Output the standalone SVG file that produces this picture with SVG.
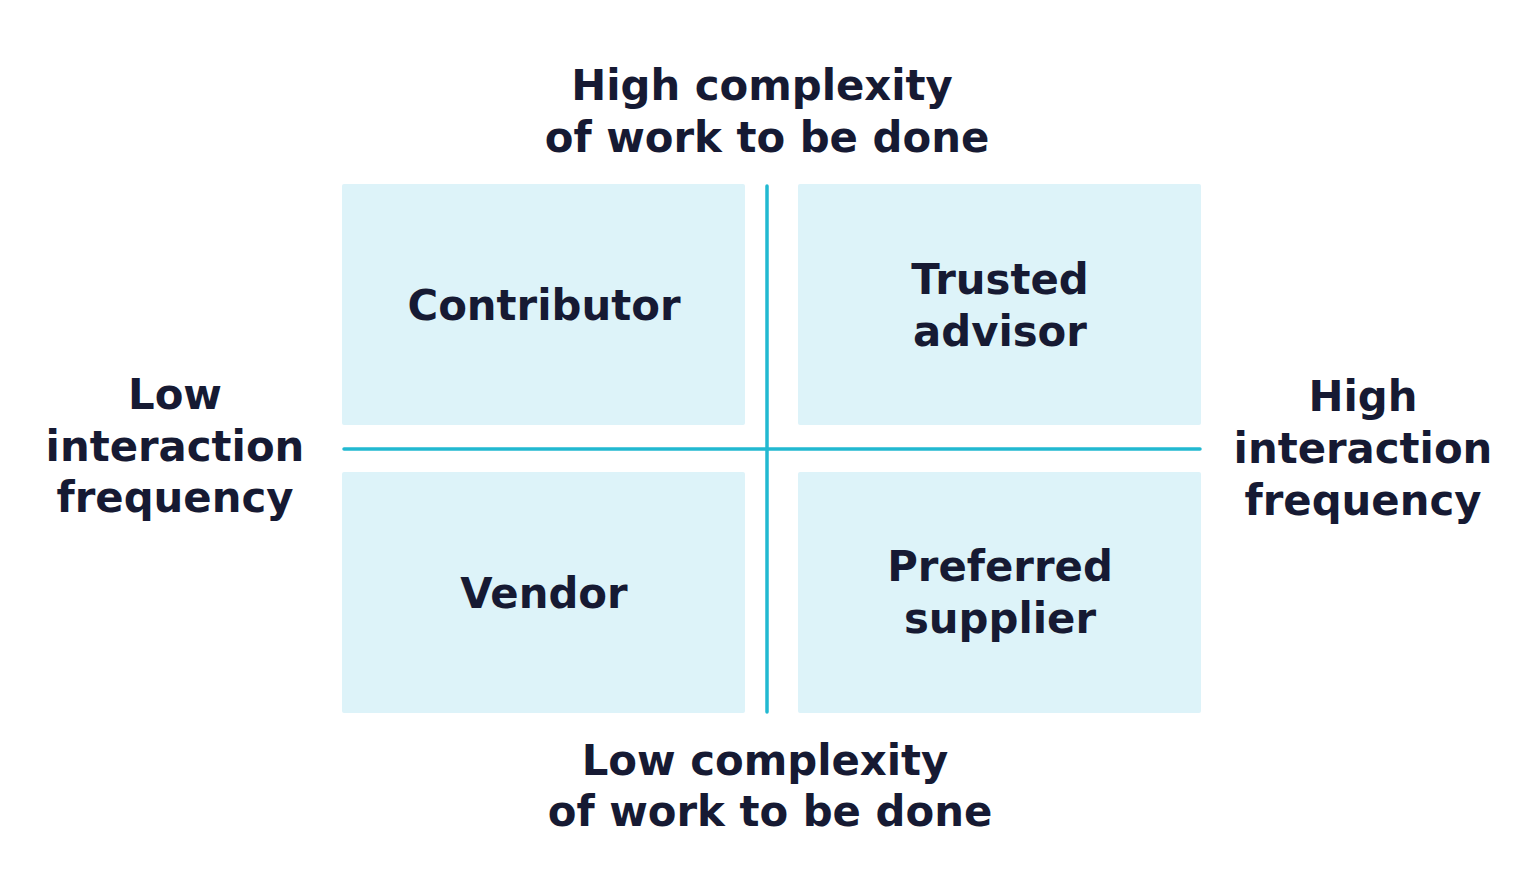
<svg xmlns="http://www.w3.org/2000/svg" width="1536" height="876" viewBox="0 0 1536 876">
<style>
.q{fill:#ddf3f9}
.t{font-family:"DejaVu Sans","Liberation Sans",sans-serif;font-weight:700;font-size:41.8px;fill:#161a33;text-anchor:middle}
.ax{stroke:#22b9d1;stroke-width:3.5;stroke-linecap:round;fill:none}
</style>
<rect width="1536" height="876" fill="#ffffff"/>
<g id="contributor"><rect class="q" x="342" y="184" width="403" height="241" rx="2"/><text class="t" x="544" y="320">Contributor</text></g>
<g id="trusted-advisor"><rect class="q" x="798" y="184" width="403" height="241" rx="2"/><text class="t" x="1000" y="294">Trusted</text><text class="t" x="1000" y="346">advisor</text></g>
<g id="vendor"><rect class="q" x="342" y="472" width="403" height="241" rx="2"/><text class="t" x="544" y="608">Vendor</text></g>
<g id="preferred-supplier"><rect class="q" x="798" y="472" width="403" height="241" rx="2"/><text class="t" x="1000" y="581">Preferred</text><text class="t" x="1000" y="633">supplier</text></g>
<g id="axes"><line class="ax" x1="767" y1="186" x2="767" y2="712"/><line class="ax" x1="344" y1="449" x2="1200" y2="449"/></g>
<g id="top-label"><text class="t" x="762" y="100">High complexity</text><text class="t" x="767" y="152">of work to be done</text></g>
<g id="bottom-label"><text class="t" x="765" y="775">Low complexity</text><text class="t" x="770" y="826">of work to be done</text></g>
<g id="left-label"><text class="t" x="175" y="409">Low</text><text class="t" x="175" y="461">interaction</text><text class="t" x="175" y="512">frequency</text></g>
<g id="right-label"><text class="t" x="1363" y="411">High</text><text class="t" x="1363" y="463">interaction</text><text class="t" x="1363" y="515">frequency</text></g>
</svg>
